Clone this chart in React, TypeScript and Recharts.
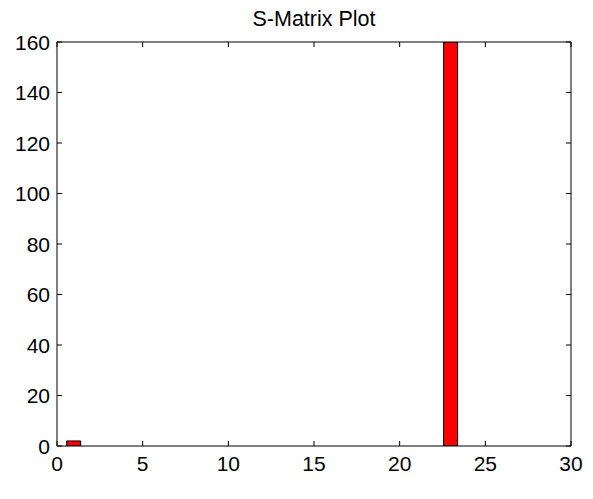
import { Bar, BarChart, XAxis, YAxis } from 'recharts'

// S-matrix entries (index -> value), everything else is zero
const positions = [1, 23]
const values = [2, 160]
const xTicks = [0, 5, 10, 15, 20, 25, 30]
const yTicks = [0, 20, 40, 60, 80, 100, 120, 140, 160]

const data = positions.map((p, i) => ({ pos: p, s: values[i] }))

const FONT = '"Liberation Sans", Arial, Helvetica, sans-serif'
const TICK_LEN = 5

function BottomTick(props: any) {
  const { x, y, payload } = props
  return (
    <g>
      <line x1={x} y1={y} x2={x} y2={y - TICK_LEN} stroke="#000" />
      <text x={x} y={y + 25} textAnchor="middle" fontSize={21} fontFamily={FONT} fill="#000">
        {payload.value}
      </text>
    </g>
  )
}

function TopTick(props: any) {
  const { x, y } = props
  return <line x1={x} y1={y} x2={x} y2={y + TICK_LEN} stroke="#000" />
}

function LeftTick(props: any) {
  const { x, y, payload } = props
  return (
    <g>
      <line x1={x} y1={y} x2={x + TICK_LEN} y2={y} stroke="#000" />
      <text x={x - 7} y={y + 7.5} textAnchor="end" fontSize={21} fontFamily={FONT} fill="#000">
        {payload.value}
      </text>
    </g>
  )
}

function RightTick(props: any) {
  const { x, y } = props
  return <line x1={x} y1={y} x2={x - TICK_LEN} y2={y} stroke="#000" />
}

export default function App() {
  return (
    <div style={{ position: 'absolute', left: 0, top: 0, width: 593, height: 499, background: '#fff' }}>
      <BarChart
        width={593}
        height={499}
        data={data}
        margin={{ top: 41, right: 21, bottom: 23, left: 0 }}
      >
        <XAxis
          xAxisId="bottom"
          dataKey="pos"
          type="number"
          domain={[0, 30]}
          ticks={xTicks}
          allowDataOverflow
          height={30}
          tickSize={0}
          tickMargin={0}
          tickLine={false}
          axisLine={{ stroke: '#000' }}
          tick={<BottomTick />}
        />
        <XAxis
          xAxisId="top"
          orientation="top"
          dataKey="pos"
          type="number"
          domain={[0, 30]}
          ticks={xTicks}
          allowDataOverflow
          height={1}
          tickSize={0}
          tickMargin={0}
          tickLine={false}
          axisLine={{ stroke: '#000' }}
          tick={<TopTick />}
        />
        <YAxis
          yAxisId="left"
          type="number"
          domain={[0, 160]}
          ticks={yTicks}
          allowDataOverflow
          width={57}
          tickSize={0}
          tickMargin={0}
          tickLine={false}
          axisLine={{ stroke: '#000' }}
          tick={<LeftTick />}
        />
        <YAxis
          yAxisId="right"
          orientation="right"
          type="number"
          domain={[0, 160]}
          ticks={yTicks}
          allowDataOverflow
          width={1}
          tickSize={0}
          tickMargin={0}
          tickLine={false}
          axisLine={{ stroke: '#000' }}
          tick={<RightTick />}
        />
        <Bar
          xAxisId="bottom"
          yAxisId="left"
          dataKey="s"
          barSize={14}
          fill="#ff0000"
          stroke="#000"
          strokeWidth={1}
          isAnimationActive={false}
        />
        <Bar
          xAxisId="top"
          yAxisId="right"
          dataKey="none"
          isAnimationActive={false}
        />
      </BarChart>
      <svg
        width={593}
        height={40}
        style={{ position: 'absolute', left: 0, top: 0, pointerEvents: 'none' }}
      >
        <text x={314} y={26} textAnchor="middle" fontSize={21.5} fontFamily={FONT} fill="#000">
          S-Matrix Plot
        </text>
      </svg>
    </div>
  )
}
